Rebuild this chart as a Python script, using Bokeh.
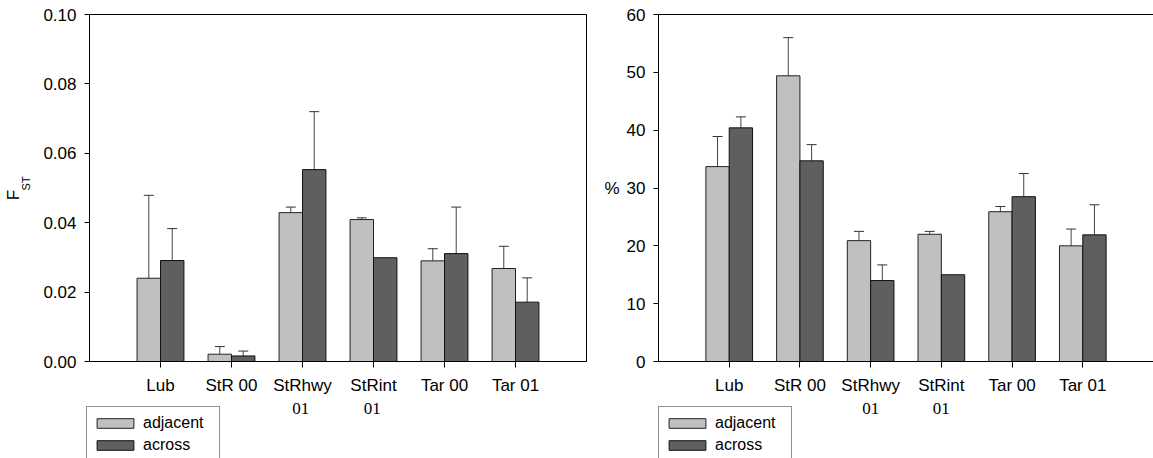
from bokeh.plotting import figure
from bokeh.layouts import row, column
from bokeh.models import (FixedTicker, NumeralTickFormatter, Whisker, TeeHead,
                          ColumnDataSource, Legend, LegendItem, LinearAxis, Range1d)
from bokeh.core.properties import value
from bokeh.embed import file_html
from bokeh.resources import INLINE

# ---------------- data ----------------
categories = ["Lub", "StR 00", "StRhwy", "StRint", "Tar 00", "Tar 01"]
second_line = ["", "", "01", "01", "", ""]

fst_adjacent = [0.0240, 0.0021, 0.0429, 0.0409, 0.0290, 0.0268]
fst_adjacent_err = [0.0239, 0.0022, 0.0016, 0.0005, 0.0035, 0.0064]
fst_across = [0.0291, 0.0016, 0.0553, 0.0299, 0.0311, 0.0171]
fst_across_err = [0.0092, 0.0014, 0.0167, 0.0, 0.0134, 0.0070]

pct_adjacent = [33.7, 49.4, 20.9, 22.0, 25.9, 20.0]
pct_adjacent_err = [5.2, 6.6, 1.6, 0.5, 0.9, 2.9]
pct_across = [40.4, 34.7, 14.0, 15.0, 28.5, 21.9]
pct_across_err = [1.9, 2.8, 2.7, 0.0, 4.0, 5.2]

series_names = ["adjacent", "across"]
series_colors = ["#c0c0c0", "#5f5f5f"]
series_lines = ["#222222", "#111111"]

fst_ticks = [0.0, 0.02, 0.04, 0.06, 0.08, 0.10]
pct_ticks = [0, 10, 20, 30, 40, 50, 60]

FONT = "Liberation Sans"
SERIF = "Liberation Serif"
NBSP = "\u00a0"
BAR_W = 0.33
H_TOP = 397
H_STRIP = 61
TOP = 14
BOTTOM = 34
N = len(categories)
XS = list(range(1, N + 1))


def make_panel(adj, adj_err, acr, acr_err, ticks, fmt, width, border_left, border_right, boxed):
    p = figure(width=width, height=H_TOP, output_backend="svg", toolbar_location=None,
               x_range=Range1d(0, N + 1), y_range=Range1d(0, ticks[-1]),
               min_border_left=border_left, min_border_right=border_right,
               min_border_top=TOP, min_border_bottom=BOTTOM,
               background_fill_color="white", border_fill_color="white")
    p.xgrid.visible = False
    p.ygrid.visible = False

    src = ColumnDataSource(dict(
        x_adj=[x - BAR_W / 2 for x in XS], x_acr=[x + BAR_W / 2 for x in XS],
        adj=adj, acr=acr))
    p.vbar(x="x_adj", top="adj", width=BAR_W, source=src,
           fill_color=series_colors[0], line_color=series_lines[0], line_width=1)
    p.vbar(x="x_acr", top="acr", width=BAR_W, source=src,
           fill_color=series_colors[1], line_color=series_lines[1], line_width=1)

    for offs, vals, errs in ((-BAR_W / 2, adj, adj_err), (BAR_W / 2, acr, acr_err)):
        wx, wl, wu = [], [], []
        for x, v, e in zip(XS, vals, errs):
            if e > 0:
                wx.append(x + offs)
                wl.append(v)
                wu.append(v + e)
        ws = ColumnDataSource(dict(x=wx, lower=wl, upper=wu))
        p.add_layout(Whisker(source=ws, base="x", lower="lower", upper="upper",
                             dimension="height", lower_head=None,
                             upper_head=TeeHead(size=10, line_color="#333333", line_width=1),
                             line_color="#444444", line_width=1))

    xa = p.below[0]
    xa.ticker = FixedTicker(ticks=XS)
    xa.major_label_overrides = {x: c for x, c in zip(XS, categories)}
    xa.major_tick_out = 6
    xa.major_tick_in = 0
    xa.minor_tick_out = 0
    xa.minor_tick_in = 0
    xa.axis_line_color = "black"
    xa.major_tick_line_color = "black"
    xa.major_label_text_font = FONT
    xa.major_label_text_font_size = "17px"
    xa.major_label_text_color = "black"
    xa.major_label_standoff = 8

    ya = p.left[0]
    ya.ticker = FixedTicker(ticks=ticks)
    ya.formatter = NumeralTickFormatter(format=fmt)
    ya.major_tick_out = 5
    ya.major_tick_in = 0
    ya.minor_tick_out = 0
    ya.minor_tick_in = 0
    ya.axis_line_color = "black"
    ya.major_tick_line_color = "black"
    ya.major_label_text_font = FONT
    ya.major_label_text_font_size = "17px"
    ya.major_label_text_color = "black"
    ya.major_label_standoff = 8
    ya.axis_label_text_font = FONT
    ya.axis_label_text_font_style = "normal"
    ya.axis_label_text_color = "black"

    if boxed:
        p.outline_line_color = "black"
        p.outline_line_width = 1
    else:
        p.outline_line_color = None
        top_axis = LinearAxis(ticker=FixedTicker(ticks=[]), major_tick_out=0, major_tick_in=0,
                              minor_tick_out=0, minor_tick_in=0, major_label_standoff=0,
                              major_label_text_font_size="0px", axis_line_color="black")
        p.add_layout(top_axis, "above")
    return p


def make_strip(x_range, width, border_left, border_right):
    """Area under the axis: second line of two-line category labels and the legend."""
    q = figure(width=width, height=H_STRIP, output_backend="svg", toolbar_location=None,
               x_range=x_range, y_range=Range1d(0, H_STRIP),
               x_axis_location=None, y_axis_location=None,
               min_border_left=border_left, min_border_right=border_right,
               min_border_top=0, min_border_bottom=0,
               background_fill_color="white", border_fill_color="white")
    q.outline_line_color = None
    q.xgrid.visible = False
    q.ygrid.visible = False
    tx = [x for x, t in zip(XS, second_line) if t]
    tt = [t for t in second_line if t]
    q.text(x=tx, y=[H_STRIP - 10.5] * len(tx), text=tt, text_align="center",
           text_baseline="middle", text_font=value(SERIF), text_font_size="17px",
           text_color="black")
    # legend-only renderers (positioned outside the visible x range)
    rends = []
    for c, lc in zip(series_colors, series_lines):
        rends.append(q.vbar(x=[-10], top=[1], width=BAR_W, fill_color=c, line_color=lc,
                            line_width=1))
    legend = Legend(items=[LegendItem(label=n, renderers=[r]) for n, r in zip(series_names, rends)],
                    location=(0, -4), padding=5, spacing=0, margin=0,
                    glyph_width=46, glyph_height=12, label_height=22, label_width=71,
                    label_standoff=5, label_text_font=FONT, label_text_font_size="16px",
                    label_text_color="black",
                    border_line_color="#222222", border_line_width=1,
                    background_fill_color="white", background_fill_alpha=1)
    q.add_layout(legend, "center")
    return q


p1 = make_panel(fst_adjacent, fst_adjacent_err, fst_across, fst_across_err,
                fst_ticks, "0.00", 600, 86, 14, True)
# y title "F" with subscript "ST": subscript on the main axis, "F" on an outer bare axis
p1.left[0].axis_label = NBSP * 3 + "ST"
p1.left[0].axis_label_text_font_size = "11px"
p1.left[0].axis_label_standoff = 8
f_axis = LinearAxis(ticker=FixedTicker(ticks=[]), axis_line_color=None,
                    major_tick_out=0, major_tick_in=0, minor_tick_out=0, minor_tick_in=0,
                    major_label_standoff=0, major_label_text_font_size="0px",
                    axis_label="F" + NBSP * 3, axis_label_standoff=-5,
                    axis_label_text_font=FONT, axis_label_text_font_style="normal",
                    axis_label_text_font_size="17px", axis_label_text_color="black")
p1.add_layout(f_axis, "left")

p2 = make_panel(pct_adjacent, pct_adjacent_err, pct_across, pct_across_err,
                pct_ticks, "0", 553, 58, 0, False)
p2.left[0].axis_label = "%"
p2.left[0].axis_label_orientation = "horizontal"
p2.left[0].axis_label_text_font_size = "17px"
p2.left[0].axis_label_standoff = 4

q1 = make_strip(p1.x_range, 600, 86, 14)
q2 = make_strip(p2.x_range, 553, 58, 0)

layout = column(row(p1, p2), row(q1, q2))
open("out.html", "w").write(file_html(layout, INLINE))
